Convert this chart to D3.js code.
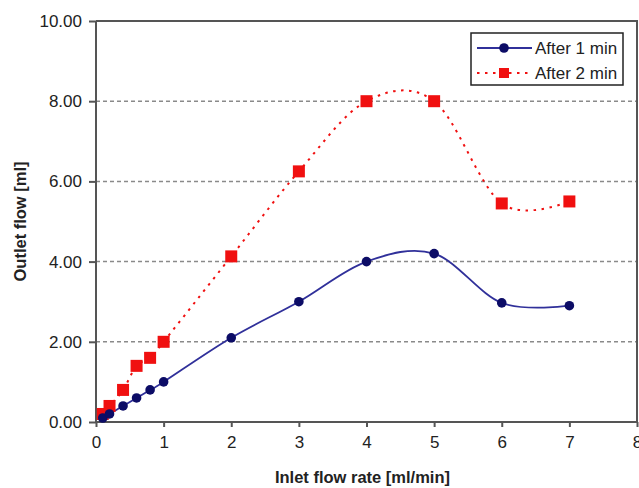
<!doctype html>
<html lang="en">
<head>
<meta charset="UTF-8" />
<title>Outlet flow vs inlet flow rate</title>
<script src="https://cdnjs.cloudflare.com/ajax/libs/d3/7.8.5/d3.min.js"></script>
<style>
  body { margin: 0; background: #fff; }
  text { font-family: "Liberation Sans", Arial, sans-serif; fill: #222; }
</style>
</head>
<body>
<div id="graph"></div>
<script>
// data
var inletRate = [0.1, 0.2, 0.4, 0.6, 0.8, 1, 2, 3, 4, 5, 6, 7];
var after1min = [0.1, 0.2, 0.4, 0.6, 0.8, 1.0, 2.1, 3.0, 4.0, 4.2, 2.97, 2.9];
var after2min = [0.2, 0.4, 0.8, 1.4, 1.6, 2.0, 4.13, 6.25, 8.0, 8.0, 5.45, 5.5];
var xTicks = [0, 1, 2, 3, 4, 5, 6, 7, 8];
var yTicks = [0, 2, 4, 6, 8, 10];
var seriesNames = ["After 1 min", "After 2 min"];

var width = 639, height = 488;
var margin = {left: 96, right: 2, top: 21, bottom: 66};

var svg = d3.select("#graph").append("svg")
    .attr("width", width)
    .attr("height", height);

var x = d3.scaleLinear().domain([0, 8]).range([margin.left, width - margin.right]);
var y = d3.scaleLinear().domain([0, 10]).range([height - margin.bottom, margin.top]);

// gridlines
svg.append("g").selectAll("line")
    .data(yTicks.filter(d => d > 0 && d < 10))
    .enter().append("line")
    .attr("x1", x(0)).attr("x2", x(8))
    .attr("y1", d => y(d)).attr("y2", d => y(d))
    .attr("stroke", "#8a8a8a")
    .attr("stroke-width", 1.5)
    .attr("stroke-dasharray", "4,3");

// frame (top + right)
svg.append("path")
    .attr("d", "M" + x(0) + "," + y(10) + "H" + x(8) + "V" + y(0))
    .attr("fill", "none")
    .attr("stroke", "#555")
    .attr("stroke-width", 2);

// axes
var yAxis = d3.axisLeft(y).tickValues(yTicks).tickFormat(d3.format(".2f")).tickSize(7).tickPadding(7);
var xAxis = d3.axisBottom(x).tickValues(xTicks).tickFormat(d3.format("d")).tickSize(5).tickPadding(9);

var gy = svg.append("g").attr("transform", "translate(" + x(0) + ",0)").call(yAxis);
var gx = svg.append("g").attr("transform", "translate(0," + y(0) + ")").call(xAxis);
[gy, gx].forEach(function(g) {
  g.selectAll("path, line").attr("stroke", "#555").attr("stroke-width", 2);
  g.selectAll("text").attr("font-size", 17).attr("fill", "#222")
      .style("font-family", "'Liberation Sans', Arial, sans-serif");
});
gy.select(".domain").attr("d", "M0," + y(0) + "V" + y(10));
gx.select(".domain").attr("d", "M" + x(0) + ",0H" + x(8));

// axis titles
svg.append("text")
    .attr("x", (x(0) + x(8)) / 2 - 4)
    .attr("y", 483)
    .attr("text-anchor", "middle")
    .attr("font-size", 16.5)
    .attr("font-weight", "bold")
    .text("Inlet flow rate [ml/min]");

svg.append("text")
    .attr("transform", "translate(26," + ((y(0) + y(10)) / 2) + ") rotate(-90)")
    .attr("text-anchor", "middle")
    .attr("font-size", 16.5)
    .attr("font-weight", "bold")
    .text("Outlet flow [ml]");

// lines (Excel-like smoothing)
var line1 = d3.line().curve(d3.curveCardinal.tension(0))
    .x((d, i) => x(inletRate[i])).y(d => y(d));

svg.append("path")
    .attr("d", line1(after2min))
    .attr("fill", "none")
    .attr("stroke", "#f01010")
    .attr("stroke-width", 2)
    .attr("stroke-dasharray", "2.5,5.5");

svg.append("path")
    .attr("d", line1(after1min))
    .attr("fill", "none")
    .attr("stroke", "#30309a")
    .attr("stroke-width", 1.8);

// markers
svg.append("g").selectAll("rect")
    .data(after2min)
    .enter().append("rect")
    .attr("x", (d, i) => x(inletRate[i]) - 6)
    .attr("y", d => y(d) - 6)
    .attr("width", 12).attr("height", 12)
    .attr("fill", "#f01010");

svg.append("g").selectAll("circle")
    .data(after1min)
    .enter().append("circle")
    .attr("cx", (d, i) => x(inletRate[i]))
    .attr("cy", d => y(d))
    .attr("r", 4.8)
    .attr("fill", "#0c0c66");

// legend
var legend = svg.append("g").attr("transform", "translate(471,33)");
legend.append("rect")
    .attr("width", 152).attr("height", 52)
    .attr("fill", "#fff")
    .attr("stroke", "#222")
    .attr("stroke-width", 1.5);

legend.append("line")
    .attr("x1", 6).attr("x2", 61).attr("y1", 15).attr("y2", 15)
    .attr("stroke", "#30309a").attr("stroke-width", 1.8);
legend.append("circle").attr("cx", 33).attr("cy", 15).attr("r", 4.8).attr("fill", "#0c0c66");

legend.append("line")
    .attr("x1", 6).attr("x2", 61).attr("y1", 40).attr("y2", 40)
    .attr("stroke", "#f01010").attr("stroke-width", 2).attr("stroke-dasharray", "2.5,5.5");
legend.append("rect").attr("x", 28).attr("y", 35).attr("width", 10).attr("height", 10).attr("fill", "#f01010");

legend.selectAll("text.lbl")
    .data(seriesNames)
    .enter().append("text")
    .attr("class", "lbl")
    .attr("x", 64)
    .attr("y", (d, i) => 21 + i * 25)
    .attr("font-size", 17)
    .text(d => d);
</script>
</body>
</html>
